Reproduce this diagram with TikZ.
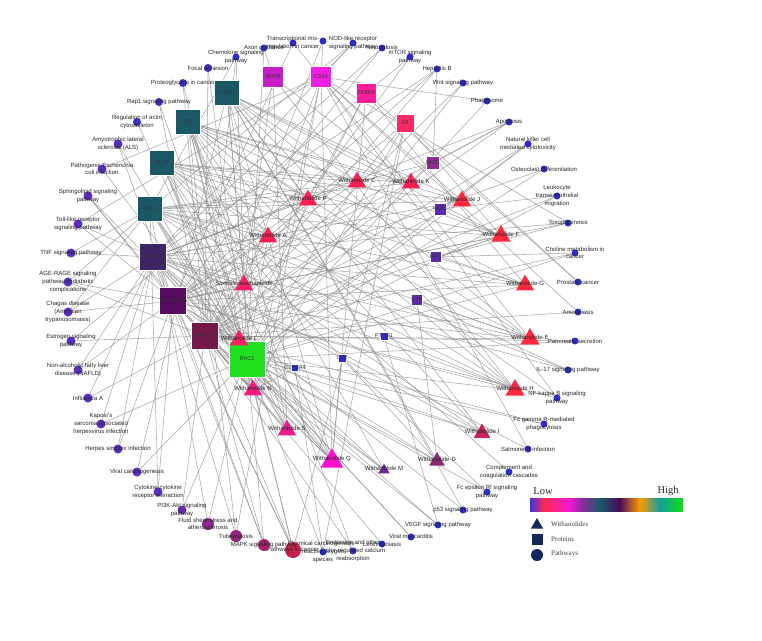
\documentclass[tikz,border=0pt]{standalone}
\usepackage{fontspec}
\setmainfont{Liberation Sans}
\newfontfamily\legfont{Liberation Serif}
\usetikzlibrary{shapes.geometric}
\pgfdeclarelayer{bg}
\pgfsetlayers{bg,main}
\definecolor{pblue}{HTML}{2B2BD0}
\definecolor{pblu2}{HTML}{3A2ED0}
\definecolor{ppur}{HTML}{5A2EC4}
\definecolor{ppi}{HTML}{6A2AB4}
\definecolor{pflu}{HTML}{8C2A90}
\definecolor{ptub}{HTML}{92287E}
\definecolor{pmapk}{HTML}{A0226E}
\definecolor{pcan}{HTML}{C8204A}
\definecolor{teal}{HTML}{1B5866}
\definecolor{cnppb}{HTML}{C81EC8}
\definecolor{ccd}{HTML}{F01EE0}
\definecolor{cfkb}{HTML}{F81E9A}
\definecolor{car}{HTML}{FA2A64}
\definecolor{ccasp}{HTML}{3E2666}
\definecolor{ctnf}{HTML}{560A5E}
\definecolor{cprk}{HTML}{74184A}
\definecolor{crac}{HTML}{1EE01E}
\definecolor{ckat}{HTML}{8A2A8A}
\definecolor{cnox}{HTML}{5A2AAA}
\definecolor{wred}{HTML}{FF2A40}
\definecolor{wpk}{HTML}{FA2052}
\definecolor{wpk2}{HTML}{FA1F66}
\definecolor{wpk3}{HTML}{FA1A80}
\definecolor{wpk4}{HTML}{F01A90}
\definecolor{wmag}{HTML}{FF10D0}
\definecolor{wvio}{HTML}{6A2A9A}
\definecolor{wplum}{HTML}{8A2A78}
\definecolor{wcrim}{HTML}{C82058}
\definecolor{navy}{HTML}{14285A}
\definecolor{edgec}{HTML}{8C8C8C}
\definecolor{g1}{HTML}{3A30E0}
\definecolor{g2}{HTML}{FF2A50}
\definecolor{g3}{HTML}{F018D8}
\definecolor{g4}{HTML}{8A2A9A}
\definecolor{g5}{HTML}{1A5A6A}
\definecolor{g6}{HTML}{4A0A5A}
\definecolor{g7}{HTML}{FF9A00}
\definecolor{g8}{HTML}{10A0A0}
\definecolor{g9}{HTML}{10DD10}
\begin{document}
\begin{tikzpicture}[x=1pt,y=-1pt,
  pw/.style={circle,inner sep=0pt,draw=none},
  prot/.style={rectangle,inner sep=0pt,draw=white,line width=0.3pt,minimum size=#1},
  tri/.style={regular polygon,regular polygon sides=3,inner sep=0pt,draw=none,minimum size=#1},
  lbl/.style={font=\fontsize{6}{7.6}\selectfont,text=black!85,align=center,inner sep=0pt},
  plbl/.style={font=\fontsize{5.5}{6}\selectfont,text=black!80,inner sep=0pt},
  edge/.style={draw=edgec,line width=0.55pt,opacity=0.75},
  legt/.style={font=\legfont\fontsize{7}{8}\selectfont,text=black!75,anchor=west,inner sep=0pt}]
\useasboundingbox (0,0) rectangle (762,640);
\begin{pgfonlayer}{bg}
\fill[white] (0,0) rectangle (762,640);
\end{pgfonlayer}

% ---------------- pathways ----------------
\foreach \n/\x/\y/\c/\s/\t in {
 pChemo/236/57/pblue/7/{Chemokine signaling\\pathway},
 pAxon/264/48/pblue/7/{Axon guidance},
 pTrans/293/43/pblue/7/{Transcriptional mis-\\regulation in cancer},
 pX/323/41/pblue/7/{},
 pNOD/353/43/pblue/7/{NOD-like receptor\\signaling pathway},
 pNecro/382/48/pblue/7/{Necroptosis},
 pmTOR/410/57/pblue/7/{mTOR signaling\\pathway},
 pHepB/437/69/pblue/7/{Hepatitis B},
 pWnt/463/83/pblue/7/{Wnt signaling pathway},
 pPhago/487/101/pblue/7/{Phagosome},
 pApop/509/122/pblue/7/{Apoptosis},
 pNK/528/144/pblue/7/{Natural killer cell\\mediated cytotoxicity},
 pOsteo/544/169/pblue/7/{Osteoclast differentiation},
 pLeuko/557/196/pblue/7/{Leukocyte\\transendothelial\\migration},
 pToxo/568/223/pblue/7/{Toxoplasmosis},
 pCholine/575/253/pblue/7/{Choline metabolism in\\cancer},
 pProst/578/282/pblue/7/{Prostate cancer},
 pAmoeb/578/312/pblue/7/{Amoebiasis},
 pPanc/575/341/pblue/7/{Pancreatic secretion},
 pIL17/568/370/pblue/7/{IL-17 signaling pathway},
 pNFkB/557/398/pblue/7/{NF-kappa B signaling\\pathway},
 pFcg/544/424/pblue/7/{Fc gamma R-mediated\\phagocytosis},
 pSalm/528/449/pblue/7/{Salmonella infection},
 pCompl/509/472/pblue/7/{Complement and\\coagulation cascades},
 pFce/487/492/pblue/7/{Fc epsilon RI signaling\\pathway},
 pp53/463/510/pblue/7/{p53 signaling pathway},
 pVEGF/438/525/pblue/7/{VEGF signaling pathway},
 pViralMyo/411/537/pblue/7/{Viral myocarditis},
 pLeish/382/544/pblue/7/{Leishmaniasis},
 pEndo/353/551/pblue/7/{Endocrine and other\\factor-regulated calcium\\reabsorption},
 pChemCarc/323/552/pblue/7/{Chemical carcinogenesis -\\reactive oxygen\\species},
 pCancer/293/550/pcan/16/{Pathways in cancer},
 pMAPK/264/545/pmapk/12/{MAPK signaling pathway},
 pTuber/236/536/ptub/12/{Tuberculosis},
 pFluid/208/524/pflu/12/{Fluid shear stress and\\atherosclerosis},
 pPI3K/182/510/ppi/9/{PI3K-Akt signaling\\pathway},
 pCyto/158/492/ppur/9/{Cytokine-cytokine\\receptor interaction},
 pViralCarc/137/472/ppur/9/{Viral carcinogenesis},
 pHSV/118/449/ppur/9/{Herpes simplex infection},
 pKaposi/101/424/ppur/9/{Kaposi's\\sarcoma-associated\\herpesvirus infection},
 pInflu/88/398/ppur/9/{Influenza A},
 pNAFLD/78/370/ppur/9/{Non-alcoholic fatty liver\\disease (NAFLD)},
 pEstro/71/341/ppur/9/{Estrogen signaling\\pathway},
 pChagas/68/312/ppur/9/{Chagas disease\\(American\\trypanosomiasis)},
 pAGE/68/282/ppur/9/{AGE-RAGE signaling\\pathway in diabetic\\complications},
 pTNF/71/253/ppur/9/{TNF signaling pathway},
 pToll/78/224/ppur/9/{Toll-like receptor\\signaling pathway},
 pSphingo/88/196/ppur/9/{Sphingolipid signaling\\pathway},
 pEcoli/102/169/ppur/9/{Pathogenic Escherichia\\coli infection},
 pALS/118/144/ppur/9/{Amyotrophic lateral\\sclerosis (ALS)},
 pActin/137/122/pblu2/8/{Regulation of actin\\cytoskeleton},
 pRap1/159/102/pblu2/8/{Rap1 signaling pathway},
 pProteo/183/83/pblu2/8/{Proteoglycans in cancer},
 pFocal/208/68/pblu2/8/{Focal adhesion}}
{ \node[pw,fill=\c,minimum size=\s] (\n) at (\x,\y) {};
  \node[lbl] at (\x,\y) {\t}; }

% ---------------- proteins ----------------
\foreach \n/\x/\y/\c/\s/\t in {
 CHEK1/227/93/teal/25/CHEK1,
 NPPB/273/77/cnppb/21/NPPB,
 CD14/321/77/ccd/21/CD14,
 FKBP5/366/93/cfkb/20/FKBP5,
 AR/405/123/car/18/AR,
 VDR/188/122/teal/25/VDR,
 PLAT/162/163/teal/25/PLAT,
 CCL2/150/209/teal/25/CCL2,
 CASP8/153/257/ccasp/27/CASP8,
 TNFRSF1A/173/301/ctnf/27/TNFRSF1A,
 PRKCA/205/336/cprk/27/PRKCA,
 RAC1/247/359/crac/36/RAC1,
 KAT/433/163/ckat/13/HAT1,
 NOX/440/209/cnox/12/NCK1,
 JNK/436/257/cnox/11/IRF1,
 ILB/417/300/cnox/11/IL1B,
 PTGS/384/336/pblue/8/PTGS1,
 CDB/342/358/pblue/8/CD2,
 CYP/295/368/pblue/7/CYP3A4}
{ \node[prot=\s,fill=\c] (\n) at (\x,\y) {};
  \node[plbl] at (\x,\y) {\t}; }

% ---------------- withanolides ----------------
\foreach \n/\x/\y/\c/\s/\t in {
 WC/357/182/wpk/21/{Withanolide C},
 WK/411/183/wpk/21/{Withanolide K},
 WJ/462/201/wred/21/{Withanolide J},
 WP/308/200/wpk/21/{Withanolide P},
 WA/268/237/wpk/21/{Withanolide A},
 WSom/244/285/wpk2/21/{Somniferawithanolide},
 WL/239/340/wpk2/21/{Withanolide L},
 WN/253/390/wpk3/21/{Withanolide N},
 WS/287/430/wpk4/21/{Withanolide S},
 WQ/332/461/wmag/26/{Withanolide Q},
 WM/384/470/wvio/13/{Withanolide M},
 WD/437/461/wplum/18/{Withanolide-D},
 WI/482/433/wcrim/19/{Withanolide I},
 WH/515/390/wred/22/{Withanolide H},
 WE/530/339/wred/22/{Withanolide-E},
 WG/525/285/wred/21/{Withanolide-G},
 WF/501/236/wred/22/{Withanolide F}}
{ \node[tri=\s,fill=\c] (\n) at (\x,\y) {};
  \node[lbl] at (\x,\y-2) {\t}; }

% ---------------- edges ----------------
\begin{pgfonlayer}{bg}
\foreach \a/\lst in {
 WC/{CHEK1,VDR,PLAT,CCL2,CASP8,TNFRSF1A,RAC1,AR,KAT},
 WK/{CHEK1,VDR,PLAT,CCL2,TNFRSF1A,PRKCA,NPPB,KAT},
 WJ/{CHEK1,VDR,PLAT,CCL2,CASP8,PRKCA,RAC1,CD14,NOX},
 WP/{CHEK1,VDR,PLAT,CCL2,CASP8,TNFRSF1A,RAC1,FKBP5},
 WA/{VDR,PLAT,CCL2,CASP8,TNFRSF1A,PRKCA,RAC1,AR},
 WSom/{CHEK1,VDR,PLAT,CASP8,TNFRSF1A,PRKCA,NPPB,CD14},
 WL/{VDR,PLAT,CCL2,CASP8,TNFRSF1A,PRKCA,RAC1,FKBP5},
 WN/{CHEK1,PLAT,CCL2,CASP8,TNFRSF1A,PRKCA,RAC1,CD14,AR,CYP},
 WS/{CHEK1,VDR,PLAT,CCL2,TNFRSF1A,PRKCA,RAC1,NPPB},
 WQ/{CHEK1,VDR,PLAT,CCL2,CASP8,TNFRSF1A,PRKCA,RAC1,CD14,FKBP5,CDB},
 WM/{VDR,CASP8,PRKCA,RAC1},
 WD/{CHEK1,PLAT,TNFRSF1A,RAC1,ILB},
 WI/{CHEK1,VDR,CCL2,CASP8,PRKCA,RAC1},
 WH/{CHEK1,VDR,PLAT,CCL2,CASP8,TNFRSF1A,RAC1,NPPB,PTGS},
 WE/{CHEK1,VDR,PLAT,CCL2,CASP8,TNFRSF1A,PRKCA,CD14,ILB},
 WG/{VDR,PLAT,CCL2,CASP8,TNFRSF1A,RAC1,FKBP5,JNK},
 WF/{CHEK1,VDR,PLAT,CCL2,TNFRSF1A,PRKCA,AR,NOX,JNK},
 pChemo/{CCL2,RAC1,PRKCA},
 pAxon/{RAC1,NPPB},
 pTrans/{CD14,TNFRSF1A},
 pX/{CD14,PRKCA},
 pNOD/{CD14,CCL2,CASP8},
 pNecro/{CASP8,TNFRSF1A},
 pmTOR/{PRKCA,FKBP5},
 pHepB/{CASP8,PRKCA,TNFRSF1A,KAT},
 pWnt/{RAC1,PRKCA},
 pPhago/{RAC1,CD14},
 pApop/{CASP8,TNFRSF1A,PRKCA,KAT},
 pNK/{RAC1,PRKCA,NOX},
 pOsteo/{RAC1,TNFRSF1A},
 pLeuko/{RAC1,PRKCA,NOX},
 pToxo/{CASP8,TNFRSF1A,CD14,JNK},
 pCholine/{PRKCA,RAC1,JNK},
 pProst/{AR,FKBP5},
 pAmoeb/{PRKCA,CD14},
 pPanc/{RAC1,PRKCA},
 pIL17/{CASP8,CCL2,ILB},
 pNFkB/{CD14,TNFRSF1A,ILB},
 pFcg/{RAC1,PRKCA},
 pSalm/{CASP8,CD14},
 pCompl/{PLAT},
 pFce/{RAC1,CDB},
 pp53/{CHEK1,CASP8},
 pVEGF/{RAC1,PRKCA,PTGS},
 pViralMyo/{RAC1,CASP8},
 pLeish/{PRKCA},
 pEndo/{PRKCA,VDR},
 pChemCarc/{RAC1,AR,CYP},
 pCancer/{RAC1,PRKCA,CASP8,AR,TNFRSF1A,VDR},
 pMAPK/{RAC1,PRKCA,CASP8,TNFRSF1A},
 pTuber/{CASP8,CD14,VDR},
 pFluid/{RAC1,CCL2},
 pPI3K/{PRKCA,RAC1},
 pCyto/{CCL2,TNFRSF1A},
 pViralCarc/{RAC1,CHEK1},
 pHSV/{CASP8,TNFRSF1A},
 pKaposi/{RAC1,CASP8},
 pInflu/{CASP8,PRKCA},
 pNAFLD/{CASP8,TNFRSF1A},
 pEstro/{PRKCA,FKBP5},
 pChagas/{CASP8,TNFRSF1A,CCL2},
 pAGE/{CCL2,PRKCA,TNFRSF1A},
 pTNF/{CASP8,CCL2},
 pToll/{CD14,CASP8,RAC1},
 pSphingo/{PRKCA,RAC1,TNFRSF1A},
 pEcoli/{RAC1,CD14},
 pALS/{RAC1,TNFRSF1A},
 pActin/{RAC1},
 pRap1/{RAC1,PRKCA},
 pProteo/{RAC1,PRKCA},
 pFocal/{RAC1,PRKCA}}
{ \foreach \b in \lst { \draw[edge] (\a) -- (\b); } }
\end{pgfonlayer}

% ---------------- legend ----------------
\node[font=\legfont\fontsize{10.5}{12}\selectfont,text=black!85] (low) at (543,491) {Low};
\node[font=\legfont\fontsize{10.5}{12}\selectfont,text=black!85] (high) at (668,491) {High};
\shade[left color=g1,right color=g2] (530,498) rectangle (544,511);
\shade[left color=g2,right color=g3] (543.5,498) rectangle (570,511);
\shade[left color=g3,right color=g4] (569.5,498) rectangle (582,511);
\shade[left color=g4,right color=g5] (581.5,498) rectangle (600,511);
\shade[left color=g5,right color=g6] (599.5,498) rectangle (620,511);
\shade[left color=g6,right color=g7] (619.5,498) rectangle (640,511);
\shade[left color=g7,right color=g8] (639.5,498) rectangle (660,511);
\shade[left color=g8,right color=g9] (659.5,498) rectangle (683,511);
\node[tri=14,fill=navy] (lt) at (537,525) {};
\node[rectangle,fill=navy,inner sep=0pt,minimum size=11] (ls) at (537,539) {};
\node[circle,fill=navy,inner sep=0pt,minimum size=12] (lc) at (537,555) {};
\node[legt] at (551,524) {Withanolides};
\node[legt] at (551,539) {Proteins};
\node[legt] at (551,554) {Pathways};
\end{tikzpicture}
\end{document}
